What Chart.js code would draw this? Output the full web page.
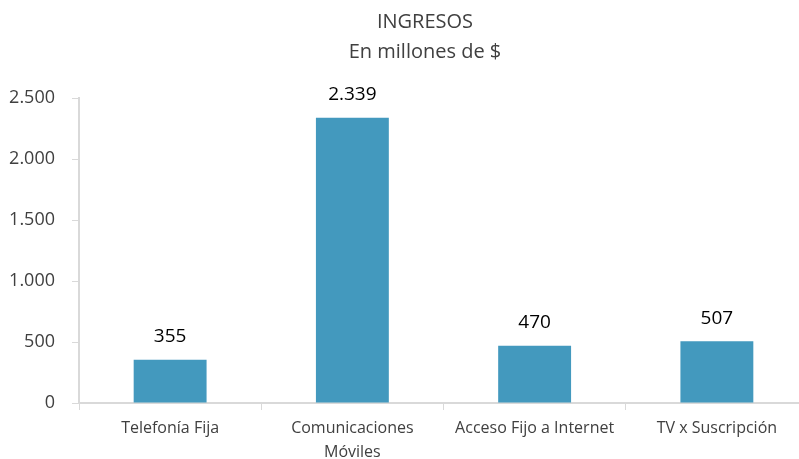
<!DOCTYPE html>
<html>
<head>
<meta charset="utf-8">
<script src="https://cdn.jsdelivr.net/npm/chart.js@4"></script>
<style>
  html, body { margin: 0; padding: 0; background: #fff; }
  #wrap { width: 799px; height: 459px; overflow: hidden; }
</style>
</head>
<body>
<div id="wrap"><canvas id="ingresosChart" width="808" height="459"></canvas></div>
<script>
const categories = ["Telefonía Fija", ["Comunicaciones", "Móviles"], "Acceso Fijo a Internet", "TV x Suscripción"];
const ingresos = [355, 2339, 470, 507];
const yTicks = [0, 500, 1000, 1500, 2000, 2500];
const titleLines = ["INGRESOS", "En millones de $"];

const FONT = "'Open Sans', sans-serif";
const AXIS = "#d9d9d9";

// thousands with a dot, like the original
const fmt = v => String(v).replace(/\B(?=(\d{3})+(?!\d))/g, ".");

const valueLabels = {
  id: "valueLabels",
  afterDatasetsDraw(chart) {
    const { ctx } = chart;
    const meta = chart.getDatasetMeta(0);
    ctx.save();
    ctx.font = "19px " + FONT;
    ctx.fillStyle = "#000";
    ctx.textAlign = "center";
    ctx.textBaseline = "middle";
    meta.data.forEach((bar, i) => {
      ctx.fillText(fmt(ingresos[i]), bar.x, bar.y - 23);
    });
    ctx.restore();
  }
};

// title sits a bit right of the canvas centre in the original
const offsetTitle = {
  id: "offsetTitle",
  afterDraw(chart) {
    const { ctx } = chart;
    ctx.save();
    ctx.font = "20px " + FONT;
    ctx.fillStyle = "#404040";
    ctx.textAlign = "center";
    ctx.textBaseline = "middle";
    titleLines.forEach((t, i) => ctx.fillText(t, 425, 22 + i * 30));
    ctx.restore();
  }
};

const canvas = document.getElementById("ingresosChart");
new Chart(canvas.getContext("2d"), {
  type: "bar",
  data: {
    labels: categories,
    datasets: [{
      label: "Ingresos",
      data: ingresos,
      backgroundColor: "#4399be",
      barPercentage: 0.4,
      categoryPercentage: 1
    }]
  },
  options: {
    responsive: false,
    animation: false,
    layout: { padding: { left: 0, right: 0, top: 98, bottom: 0 } },
    plugins: {
      legend: { display: false },
      tooltip: { enabled: false },
      title: { display: false }
    },
    scales: {
      x: {
        afterFit(scale) { scale.height = 56; },
        grid: { display: true, offset: true, drawOnChartArea: false, tickLength: 7, color: AXIS },
        border: { color: AXIS, width: 2 },
        ticks: { color: "#404040", font: { family: FONT, size: 16, lineHeight: 1.5 }, padding: 6, maxRotation: 0, autoSkip: false }
      },
      y: {
        min: 0,
        max: 2500,
        afterFit(scale) { scale.width = 79; },
        afterBuildTicks(scale) { scale.ticks = yTicks.map(v => ({ value: v })); },
        grid: { display: true, drawOnChartArea: false, tickLength: 7, color: AXIS },
        border: { color: AXIS, width: 2 },
        ticks: { color: "#404040", font: { family: FONT, size: 18 }, padding: 17, callback: v => fmt(v) }
      }
    }
  },
  plugins: [valueLabels, offsetTitle]
});
</script>
</body>
</html>
